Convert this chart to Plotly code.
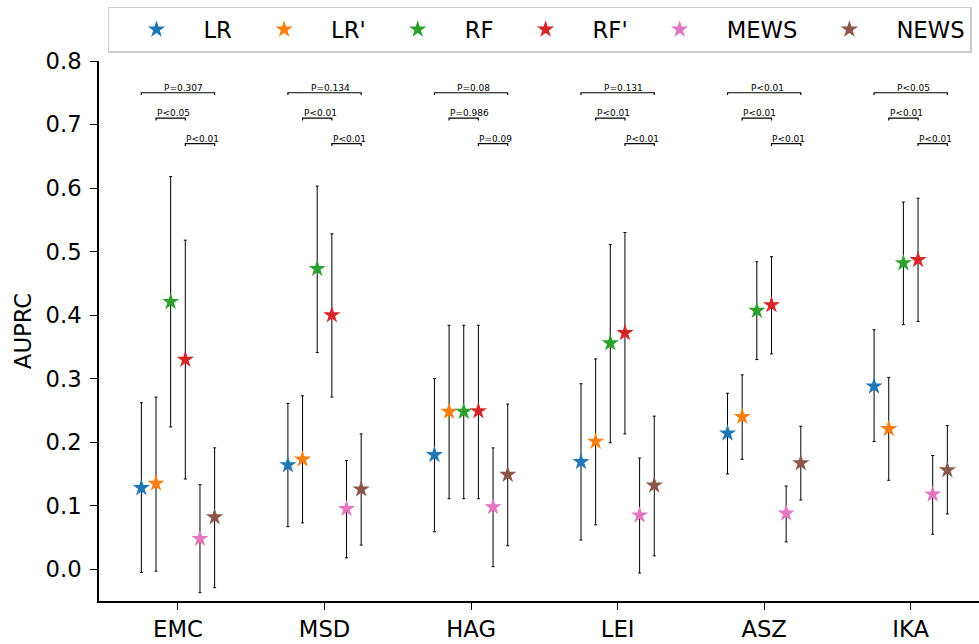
import plotly.graph_objects as go

groups = ["EMC", "MSD", "HAG", "LEI", "ASZ", "IKA"]
models = ["LR", "LR'", "RF", "RF'", "MEWS", "NEWS"]
colors = ["#1f77b4", "#ff7f0e", "#2ca02c", "#d62728", "#e377c2", "#8c564b"]
offsets = [-0.25, -0.15, -0.05, 0.05, 0.15, 0.25]

# AUPRC point estimate per model, one value per group (EMC, MSD, HAG, LEI, ASZ, IKA)
lr_mean = [0.128, 0.164, 0.180, 0.169, 0.214, 0.288]
lr_low = [-0.005, 0.067, 0.059, 0.046, 0.150, 0.201]
lr_high = [0.262, 0.261, 0.300, 0.292, 0.277, 0.377]

lrp_mean = [0.135, 0.173, 0.248, 0.201, 0.240, 0.221]
lrp_low = [-0.003, 0.073, 0.111, 0.070, 0.173, 0.140]
lrp_high = [0.271, 0.273, 0.384, 0.331, 0.306, 0.302]

rf_mean = [0.421, 0.473, 0.248, 0.356, 0.407, 0.482]
rf_low = [0.224, 0.341, 0.111, 0.199, 0.330, 0.385]
rf_high = [0.618, 0.603, 0.384, 0.511, 0.484, 0.578]

rfp_mean = [0.330, 0.400, 0.249, 0.372, 0.416, 0.487]
rfp_low = [0.142, 0.271, 0.111, 0.213, 0.339, 0.390]
rfp_high = [0.518, 0.528, 0.384, 0.530, 0.492, 0.584]

mews_mean = [0.048, 0.095, 0.098, 0.085, 0.088, 0.118]
mews_low = [-0.037, 0.018, 0.004, -0.006, 0.043, 0.055]
mews_high = [0.133, 0.171, 0.191, 0.175, 0.131, 0.179]

news_mean = [0.082, 0.126, 0.149, 0.132, 0.167, 0.156]
news_low = [-0.029, 0.038, 0.037, 0.021, 0.109, 0.087]
news_high = [0.191, 0.213, 0.260, 0.241, 0.225, 0.226]

# significance labels: top bracket (LR-NEWS), middle (LR'-RF'), bottom (RF'-NEWS)
p_top = ["P=0.307", "P=0.134", "P=0.08", "P=0.131", "P<0.01", "P<0.05"]
p_mid = ["P<0.05", "P<0.01", "P=0.986", "P<0.01", "P<0.01", "P<0.01"]
p_bot = ["P<0.01", "P<0.01", "P=0.09", "P<0.01", "P<0.01", "P<0.01"]
bracket_levels = [0.75, 0.71, 0.67]

series = [
    (lr_mean, lr_low, lr_high),
    (lrp_mean, lrp_low, lrp_high),
    (rf_mean, rf_low, rf_high),
    (rfp_mean, rfp_low, rfp_high),
    (mews_mean, mews_low, mews_high),
    (news_mean, news_low, news_high),
]

FONT = "DejaVu Sans"
fig = go.Figure()

for k, (name, (m, lo, hi)) in enumerate(zip(models, series)):
    xs = [i + offsets[k] for i in range(len(groups))]
    fig.add_trace(go.Scatter(
        x=xs, y=m, mode="markers", name=name,
        marker=dict(symbol="star", size=13, color=colors[k], line=dict(width=0)),
        error_y=dict(type="data", symmetric=False,
                     array=[h - v for h, v in zip(hi, m)],
                     arrayminus=[v - l for v, l in zip(m, lo)],
                     color="black", thickness=1, width=1.5),
    ))

shapes = []
annotations = []
h = 0.0036
pairs = [(0, 5), (1, 3), (3, 5)]
labels = [p_top, p_mid, p_bot]
for i in range(len(groups)):
    for lvl, (a, b), lab in zip(bracket_levels, pairs, labels):
        x1 = i + offsets[a]
        x2 = i + offsets[b]
        shapes.append(dict(type="path", xref="x", yref="y",
                           path=f"M {x1},{lvl - h} L {x1},{lvl} L {x2},{lvl} L {x2},{lvl - h}",
                           line=dict(color="black", width=1.2)))
        annotations.append(dict(x=(x1 + x2) / 2 - 0.1, y=lvl, xref="x", yref="y",
                                text=lab[i], showarrow=False, xanchor="left",
                                yanchor="bottom", borderpad=0, yshift=-1,
                                font=dict(family=FONT, size=9, color="black")))

fig.update_layout(
    width=979, height=644,
    margin=dict(l=99, r=0, t=61, b=43),
    plot_bgcolor="white", paper_bgcolor="white",
    font=dict(family=FONT, color="black"),
    shapes=shapes, annotations=annotations,
    showlegend=True,
    legend=dict(orientation="h", x=0.0102, xanchor="left", y=1.1006, yanchor="top",
                font=dict(family=FONT, size=22.7, color="black"),
                bordercolor="#cccccc", borderwidth=1.5, bgcolor="white",
                itemwidth=84),
    xaxis=dict(range=[-0.539, 5.466], tickmode="array", tickvals=list(range(len(groups))),
               ticktext=groups, showline=True, linecolor="black", linewidth=1.5,
               ticks="outside", ticklen=7, tickwidth=1.3, tickcolor="black",
               showgrid=False, zeroline=False, tickfont=dict(family=FONT, size=22.7)),
    yaxis=dict(range=[-0.05, 0.8], tickmode="linear", tick0=0, dtick=0.1, tickformat=".1f",
               showline=True, linecolor="black", linewidth=1.5,
               ticks="outside", ticklen=7, tickwidth=1.3, tickcolor="black",
               showgrid=False, zeroline=False, tickfont=dict(family=FONT, size=22.7),
               ticklabelstandoff=4,
               title=dict(text="AUPRC", font=dict(family=FONT, size=22.7), standoff=8)),
)

fig.write_html("out.html")
